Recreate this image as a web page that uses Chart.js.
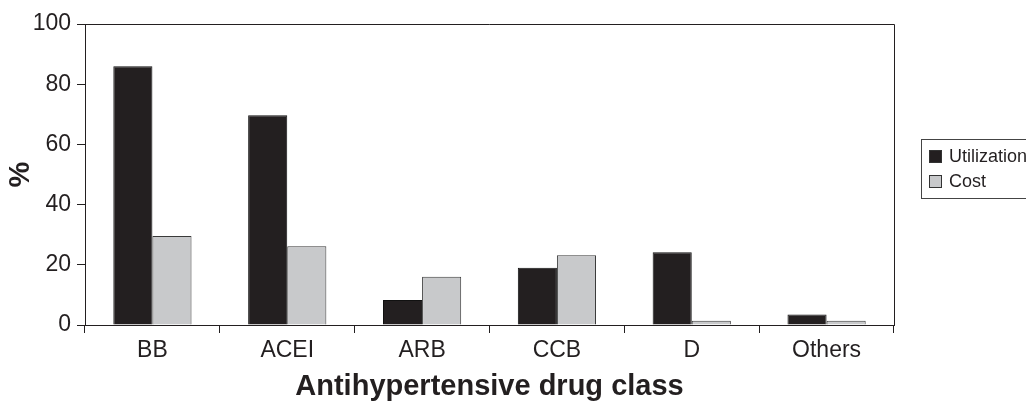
<!DOCTYPE html>
<html>
<head>
<meta charset="utf-8">
<script src="https://cdn.jsdelivr.net/npm/chart.js@4"></script>
<style>
  html, body { margin: 0; padding: 0; background: #fff; }
  #wrap { width: 1026px; height: 404px; position: relative; }
</style>
</head>
<body>
<div id="wrap"><canvas id="drugChart"></canvas></div>
<script>
const categories = ['BB', 'ACEI', 'ARB', 'CCB', 'D', 'Others'];
const utilization = [86.0, 69.7, 8.3, 19.0, 24.2, 3.5];
const cost = [29.6, 26.2, 16.0, 23.2, 1.4, 1.4];
const yTicks = [0, 20, 40, 60, 80, 100];

const FONT = "'Liberation Sans', Arial, sans-serif";
const INK = '#231f20';

// frame on top/right of the plot + boxed legend on the right
const framePlugin = {
    id: 'frameAndLegend',
    afterDraw(chart) {
        const ctx = chart.ctx;
        const a = chart.chartArea;
        ctx.save();
        ctx.strokeStyle = INK;
        ctx.lineWidth = 1;
        ctx.beginPath();
        ctx.moveTo(a.left, a.top + 0.5);
        ctx.lineTo(a.right + 0.5, a.top + 0.5);
        ctx.lineTo(a.right + 0.5, a.bottom);
        ctx.stroke();

        // legend box
        const bx = 921, by = 139;
        ctx.strokeStyle = '#444';
        ctx.strokeRect(bx + 0.5, by + 0.5, 120, 59);
        ctx.font = '18px ' + FONT;
        ctx.textBaseline = 'middle';
        chart.data.datasets.forEach((ds, i) => {
            const y = by + 17 + i * 25;
            ctx.fillStyle = ds.backgroundColor;
            ctx.fillRect(929, y - 6, 13, 13);
            ctx.strokeStyle = '#333';
            ctx.strokeRect(929.5, y - 5.5, 12, 12);
            ctx.fillStyle = INK;
            ctx.fillText(ds.label, 949, y + 1);
        });
        ctx.restore();
    }
};

const ctx = document.getElementById('drugChart').getContext('2d');
const drugChart = new Chart(ctx, {
    type: 'bar',
    data: {
        labels: categories,
        datasets: [{
            label: 'Utilization',
            data: utilization,
            backgroundColor: INK,
            borderColor: '#111',
            borderWidth: 1,
            categoryPercentage: 0.58,
            barPercentage: 1.0
        }, {
            label: 'Cost',
            data: cost,
            backgroundColor: '#c8c9cb',
            borderColor: '#3a3a3a',
            borderWidth: 1,
            categoryPercentage: 0.58,
            barPercentage: 1.0
        }]
    },
    options: {
        responsive: true,
        maintainAspectRatio: false,
        animation: false,
        layout: { padding: { top: 24, right: 132, left: 0, bottom: 0 } },
        plugins: {
            legend: { display: false },
            tooltip: { enabled: false }
        },
        scales: {
            x: {
                afterFit(scale) { scale.height = 79; },
                grid: {
                    offset: true,
                    drawOnChartArea: false,
                    tickLength: 8,
                    color: INK
                },
                border: { color: INK, width: 1 },
                ticks: {
                    color: INK,
                    padding: 4,
                    font: { family: FONT, size: 23 }
                },
                title: {
                    display: true,
                    text: 'Antihypertensive drug class',
                    color: INK,
                    padding: { top: 0, bottom: 0 },
                    font: { family: FONT, size: 29, weight: 'bold' }
                }
            },
            y: {
                min: 0,
                max: 100,
                afterFit(scale) { scale.width = 85; },
                afterBuildTicks(scale) {
                    scale.ticks = yTicks.map(v => ({ value: v }));
                },
                grid: {
                    drawOnChartArea: false,
                    tickLength: 8,
                    color: INK
                },
                border: { color: INK, width: 1 },
                ticks: {
                    color: INK,
                    padding: 6,
                    font: { family: FONT, size: 23 }
                },
                title: {
                    display: true,
                    text: '%',
                    color: INK,
                    padding: { top: 4, bottom: 0 },
                    font: { family: FONT, size: 29, weight: 'bold' }
                }
            }
        }
    },
    plugins: [framePlugin]
});
</script>
</body>
</html>
